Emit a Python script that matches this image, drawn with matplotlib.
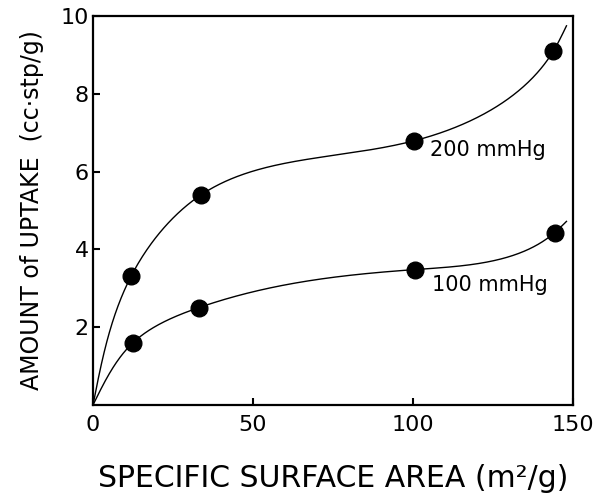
import numpy as np
import matplotlib
matplotlib.use("Agg")
import matplotlib.pyplot as plt

# Data
area_200 = [11.9, 33.9, 100.2, 143.9]
uptake_200 = [3.31, 5.41, 6.79, 9.10]
area_100 = [12.5, 33.0, 100.5, 144.3]
uptake_100 = [1.60, 2.50, 3.48, 4.43]
# where the hand-drawn curves end
curve_end_200 = (148.0, 9.75)
curve_end_100 = (148.0, 4.72)
x_ticks = [0, 50, 100, 150]
y_ticks = [2, 4, 6, 8, 10]
label_200 = "200 mmHg"
label_100 = "100 mmHg"


def natural_spline(tk, vk, ts):
    tk = np.asarray(tk, float)
    vk = np.asarray(vk, float)
    n = len(tk)
    h = np.diff(tk)
    A = np.zeros((n, n))
    r = np.zeros(n)
    A[0, 0] = 1
    A[-1, -1] = 1
    for i in range(1, n - 1):
        A[i, i - 1] = h[i - 1]
        A[i, i] = 2 * (h[i - 1] + h[i])
        A[i, i + 1] = h[i]
        r[i] = 6 * ((vk[i + 1] - vk[i]) / h[i] - (vk[i] - vk[i - 1]) / h[i - 1])
    M = np.linalg.solve(A, r)
    idx = np.clip(np.searchsorted(tk, ts) - 1, 0, n - 2)
    t0k, t1k = tk[idx], tk[idx + 1]
    v0, v1 = vk[idx], vk[idx + 1]
    m0, m1 = M[idx], M[idx + 1]
    hh = t1k - t0k
    a = t1k - ts
    b = ts - t0k
    return (m0 * a ** 3 / (6 * hh) + m1 * b ** 3 / (6 * hh)
            + (v0 / hh - m0 * hh / 6) * a + (v1 / hh - m1 * hh / 6) * b)


def smooth_curve(xk, yk):
    xk = np.asarray(xk, float)
    yk = np.asarray(yk, float)
    # chord-length parameter in display-like proportions
    px = xk / 150 * 480
    py = yk / 10 * 389
    d = np.sqrt(np.diff(px) ** 2 + np.diff(py) ** 2)
    t = np.concatenate([[0], np.cumsum(d)])
    ts = np.linspace(0, t[-1], 600)
    return natural_spline(t, xk, ts), natural_spline(t, yk, ts)


fig = plt.figure(figsize=(6.14, 5.03), dpi=100)
ax = fig.add_axes([0.1515, 0.195, 0.7815, 0.773])

for ax_x, ax_y, end in [(area_200, uptake_200, curve_end_200),
                         (area_100, uptake_100, curve_end_100)]:
    xk = [0] + list(ax_x) + [end[0]]
    yk = [0] + list(ax_y) + [end[1]]
    cx, cy = smooth_curve(xk, yk)
    ax.plot(cx, cy, color="black", lw=1.0, clip_on=False)
    ax.plot(ax_x, ax_y, "o", color="black", ms=12)

ax.text(105.3, 6.56, label_200, fontsize=15, va="center", ha="left")
ax.text(106, 3.08, label_100, fontsize=15, va="center", ha="left")

ax.set_xlim(0, 150)
ax.set_ylim(0, 10)
ax.set_xticks(x_ticks)
ax.set_yticks(y_ticks)
ax.tick_params(direction="in", length=5, width=1.5, labelsize=16)
ax.tick_params(axis="x", pad=7)
ax.tick_params(axis="y", pad=3)
for s in ax.spines.values():
    s.set_linewidth(1.6)

ax.set_xlabel("SPECIFIC SURFACE AREA (m²/g)", fontsize=21.5, labelpad=21)
ax.set_ylabel("AMOUNT of UPTAKE  (cc·stp/g)", fontsize=17, labelpad=12)

fig.savefig("out.png", dpi=100)
